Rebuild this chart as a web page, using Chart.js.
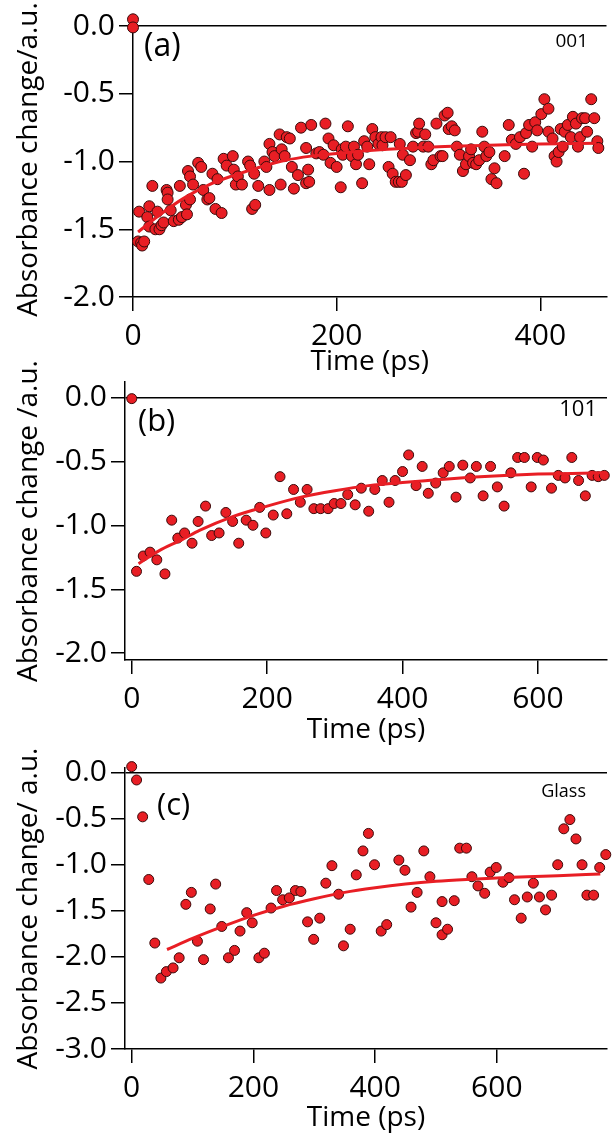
<!DOCTYPE html>
<html>
<head>
<meta charset="utf-8">
<script src="https://cdn.jsdelivr.net/npm/chart.js@4.4.1/dist/chart.umd.min.js"></script>
<style>
  html, body { margin: 0; padding: 0; background: #fff; }
  body { width: 613px; height: 1135px; position: relative; overflow: hidden; }
  canvas { position: absolute; left: 0; }
</style>
</head>
<body>
<canvas id="chartA" width="613" height="385" style="top:0px"></canvas>
<canvas id="chartB" width="613" height="390" style="top:360px"></canvas>
<canvas id="chartC" width="613" height="390" style="top:745px"></canvas>
<script>
// (a) 001
const timeA = [0, 0, 5, 6, 8, 9, 11, 14, 16, 16, 19, 22, 24, 26, 28, 30, 33, 34, 34, 37, 40, 45, 46, 48, 52, 53, 54, 56, 56, 59,
  64, 67, 69, 73, 75, 78, 81, 83, 87, 89, 92, 98, 99, 101, 103, 107, 113, 115, 117, 119, 120, 123, 129, 131, 134, 134, 137, 139,
  144, 145, 146, 149, 151, 154, 156, 158, 162, 165, 170, 170, 172, 173, 175, 180, 183, 187, 189, 192, 194, 197, 200, 204, 205,
  206, 209, 211, 215, 217, 219, 221, 225, 227, 230, 232, 235, 238, 241, 244, 245, 248, 251, 253, 255, 258, 261, 262, 264, 265,
  268, 272, 275, 278, 280, 281, 285, 287, 290, 293, 295, 298, 302, 304, 306, 309, 310, 313, 316, 318, 321, 324, 327, 330, 332,
  334, 337, 340, 343, 345, 347, 350, 352, 355, 357, 365, 369, 372, 376, 380, 384, 386, 389, 392, 395, 397, 401, 404, 408, 408,
  412, 414, 416, 418, 420, 422, 424, 427, 430, 432, 435, 437, 439, 441, 444, 446, 450, 453, 456, 457];
const absA = [0.05, -0.01, -1.59, -1.37, -1.60, -1.62, -1.59, -1.41, -1.33, -1.48, -1.18, -1.50, -1.37, -1.50, -1.47, -1.45,
  -1.21, -1.23, -1.28, -1.36, -1.44, -1.43, -1.18, -1.41, -1.32, -1.39, -1.07, -1.11, -1.28, -1.17,
  -1.01, -1.04, -1.21, -1.28, -1.27, -1.09, -1.35, -1.13, -1.38, -0.98, -1.03, -0.96, -1.06, -1.17, -1.11, -1.17, -1.00, -1.03,
  -1.35, -1.09, -1.32, -1.18, -1.00, -1.04, -0.87, -1.21, -0.93, -0.96,
  -0.80, -1.17, -0.91, -0.96, -0.82, -0.83, -1.04, -1.20, -1.10, -0.75, -0.90, -1.16, -1.06, -1.15, -0.73, -0.94, -0.93, -0.95,
  -0.72, -0.83, -1.01, -0.88, -1.04, -1.19, -0.91,
  -0.95, -0.89, -0.74, -0.96, -0.89, -1.02, -0.95, -1.16, -0.85, -0.89, -1.02, -0.76, -0.82, -0.87, -0.82, -0.88, -0.82, -1.04,
  -0.82, -1.09, -1.15, -1.15, -0.87, -1.15, -0.95,
  -1.10, -0.99, -0.89, -0.79, -0.78, -0.72, -0.89, -0.80, -0.89, -1.02, -0.99, -0.72, -0.96, -0.96, -0.66, -0.64, -0.76, -0.74,
  -0.77, -0.89, -0.95, -1.07, -1.02, -0.96, -0.91,
  -1.01, -1.02, -0.99, -0.78, -0.89, -0.96, -0.93, -1.13, -1.05, -1.16, -0.96, -0.73, -0.84, -0.87, -0.82, -1.09, -0.79, -0.73,
  -0.89, -0.71, -0.77, -0.65, -0.54, -0.61, -0.78,
  -0.83, -0.96, -1.00, -0.93, -0.76, -0.89, -0.78, -0.73, -0.82, -0.67, -0.72, -0.89, -0.82, -0.68, -0.68, -0.78, -0.54, -0.68,
  -0.85, -0.90];
const fitTimeA = [5, 25, 50, 75, 100, 125, 150, 175, 200, 250, 300, 350, 400, 455];
const fitA = [-1.52, -1.40, -1.27, -1.17, -1.10, -1.04, -0.99, -0.96, -0.94, -0.91, -0.89, -0.88, -0.87, -0.865];

// (b) 101
const timeB = [0, 7, 17, 27, 37, 49, 59, 68, 78, 89, 98, 109, 118, 129, 139, 149, 158, 169, 179, 189, 198, 209, 219, 229, 239,
  249, 259, 269, 279, 290, 299, 309, 319, 330, 339, 350, 359, 370, 380, 389, 400, 409, 420, 429, 438, 449, 460, 469, 479, 489,
  500, 509, 519, 530, 540, 550, 560, 570, 580, 590, 599, 608, 620, 630, 640, 650, 660, 670, 680, 689, 698];
const absB = [-0.01, -1.36, -1.24, -1.21, -1.27, -1.38, -0.96, -1.10, -1.06, -1.14, -0.97, -0.85, -1.08, -1.06, -0.90, -0.97,
  -1.14, -0.96, -1.00, -0.86, -1.06, -0.92, -0.62, -0.91, -0.72,
  -0.82, -0.72, -0.87, -0.87, -0.87, -0.83, -0.83, -0.76, -0.84, -0.71, -0.89, -0.72, -0.65, -0.82, -0.65, -0.58, -0.45, -0.69,
  -0.54, -0.75, -0.67, -0.59, -0.54, -0.78, -0.53,
  -0.63, -0.54, -0.77, -0.54, -0.70, -0.85, -0.59, -0.47, -0.47, -0.70, -0.47, -0.49, -0.71, -0.61, -0.63, -0.47, -0.65, -0.77,
  -0.61, -0.62, -0.61];
const fitTimeB = [10, 40, 75, 100, 150, 200, 250, 300, 350, 400, 450, 500, 550, 600, 650, 700];
const fitB = [-1.30, -1.20, -1.11, -1.04, -0.93, -0.85, -0.78, -0.73, -0.69, -0.665, -0.645, -0.625, -0.61, -0.60, -0.595, -0.59];

// (c) Glass
const timeC = [0, 8, 18, 28, 38, 48, 57, 68, 78, 89, 98, 108, 118, 129, 138, 148, 159, 169, 178, 189, 198, 209, 218, 229, 238,
  248, 259, 269, 278, 289, 299, 309, 319, 329, 340, 348, 359, 369, 380, 389, 399, 410, 419, 439, 449, 459, 469, 480, 490, 500,
  510, 510, 519, 530, 539, 550, 559, 569, 580, 589, 599, 610, 620, 629, 640, 650, 660, 670, 680, 690, 700, 710, 720, 730, 740,
  748, 759, 769, 779];
const absC = [0.065, -0.08, -0.48, -1.16, -1.85, -2.23, -2.16, -2.12, -2.01, -1.43, -1.30, -1.83, -2.03, -1.48, -1.21, -1.67,
  -2.01, -1.93, -1.72, -1.52, -1.63, -2.01, -1.96, -1.47, -1.28,
  -1.38, -1.36, -1.28, -1.29, -1.62, -1.81, -1.58, -1.20, -1.01, -1.32, -1.88, -1.70, -1.11, -0.85, -0.66, -1.00, -1.72, -1.65,
  -0.95, -1.06, -1.46, -1.30, -0.85, -1.13, -1.63,
  -1.40, -1.76, -1.70, -1.39, -0.82, -0.82, -1.13, -1.23, -1.31, -1.08, -1.03, -1.19, -1.14, -1.38, -1.58, -1.35, -1.20, -1.35,
  -1.49, -1.33, -1.00, -0.61, -0.51, -0.72, -1.00,
  -1.33, -1.33, -1.03, -0.89];
const fitTimeC = [58, 100, 150, 200, 250, 300, 350, 400, 450, 500, 550, 600, 650, 700, 770];
const fitC = [-1.92, -1.80, -1.67, -1.55, -1.45, -1.37, -1.30, -1.25, -1.21, -1.18, -1.16, -1.145, -1.13, -1.12, -1.10];

// tick values
const xTicksA = [0, 200, 400];
const xTicksBC = [0, 200, 400, 600];
const yTicksAB = [0, -0.5, -1.0, -1.5, -2.0];
const yTicksC = [0, -0.5, -1.0, -1.5, -2.0, -2.5, -3.0];

const RED = 'rgb(232, 30, 36)';

// writes the panel letter and sample name
const panelText = {
    id: 'panelText',
    afterDraw(chart, args, opts) {
        const ctx = chart.ctx;
        ctx.save();
        ctx.fillStyle = '#000';
        ctx.textBaseline = 'middle';
        (opts.items || []).forEach(it => {
            ctx.font = it.size + "px 'Open Sans', sans-serif";
            ctx.textAlign = it.align;
            ctx.fillText(it.text, it.x, it.y);
        });
        ctx.restore();
    }
};

function toPoints(xs, ys) {
    return xs.map((x, i) => ({ x: x, y: ys[i] }));
}

function makePanel(id, p) {
    new Chart(document.getElementById(id).getContext('2d'), {
        type: 'scatter',
        data: {
            datasets: [
                {
                    label: 'fit',
                    data: toPoints(p.fitX, p.fitY),
                    showLine: true,
                    borderColor: RED,
                    borderWidth: 3,
                    pointRadius: 0,
                    cubicInterpolationMode: 'monotone'
                },
                {
                    label: 'data',
                    data: toPoints(p.x, p.y),
                    backgroundColor: RED,
                    borderColor: '#3a0a0a',
                    borderWidth: 1,
                    pointRadius: p.radius,
                    clip: false
                }
            ]
        },
        options: {
            responsive: false,
            animation: false,
            devicePixelRatio: 1,
            layout: { padding: { top: p.padTop, right: p.padRight, left: 0, bottom: 0 } },
            plugins: {
                legend: { display: false },
                tooltip: { enabled: false },
                panelText: { items: p.labels }
            },
            scales: {
                x: {
                    type: 'linear',
                    min: p.xMin,
                    max: p.xMax,
                    afterBuildTicks: s => { s.ticks = p.xTicks.map(v => ({ value: v })); },
                    afterFit: s => { s.height = p.xHeight; },
                    ticks: { font: { size: 30 }, color: '#000', padding: 7, maxRotation: 0, callback: v => String(v) },
                    grid: { drawOnChartArea: false, color: '#000', lineWidth: 1.5, tickLength: 14 },
                    border: { color: '#000', width: 1.5 },
                    title: { display: true, text: 'Time (ps)', font: { size: 28 }, color: '#000',
                             padding: { top: 0, bottom: p.titlePad } }
                },
                y: {
                    type: 'linear',
                    min: p.yMin,
                    max: p.yMax,
                    afterBuildTicks: s => { s.ticks = p.yTicks.map(v => ({ value: v })); },
                    afterFit: s => { s.width = p.yWidth; },
                    ticks: { font: { size: 30 }, color: '#000', padding: 4, callback: v => v.toFixed(1) },
                    grid: {
                        color: c => (c.tick && c.tick.value === 0) ? '#000' : 'rgba(0,0,0,0)',
                        tickColor: '#000',
                        lineWidth: 1.5,
                        tickLength: 14
                    },
                    border: { color: '#000', width: 1.5 },
                    title: { display: true, text: p.yTitle, font: { size: 28 }, color: '#000',
                             padding: { top: 12, bottom: 0 } }
                }
            }
        },
        plugins: [panelText]
    });
}

document.addEventListener('DOMContentLoaded', () => {
    Chart.defaults.font.family = "'Open Sans', sans-serif";
    Chart.defaults.color = '#000';

    makePanel('chartA', {
        x: timeA, y: absA, fitX: fitTimeA, fitY: fitA, radius: 5.5,
        xMin: 0, xMax: 465, yMin: -2.0, yMax: 0.03,
        xTicks: xTicksA, yTicks: yTicksAB,
        yTitle: 'Absorbance change/a.u.',
        padTop: 21, padRight: 5, yWidth: 133, xHeight: 88, titlePad: 6,
        labels: [
            { text: '(a)', x: 144, y: 47, size: 32, align: 'left' },
            { text: '001', x: 588, y: 42, size: 19, align: 'right' }
        ]
    });

    makePanel('chartB', {
        x: timeB, y: absB, fitX: fitTimeB, fitY: fitB, radius: 5,
        xMin: -10, xMax: 702, yMin: -2.053, yMax: 0.12,
        xTicks: xTicksBC, yTicks: yTicksAB,
        yTitle: 'Absorbance change /a.u.',
        padTop: 13, padRight: 0, yWidth: 125, xHeight: 90, titlePad: 3,
        labels: [
            { text: '(b)', x: 138, y: 62, size: 31, align: 'left' },
            { text: '101', x: 597, y: 50, size: 22, align: 'right' }
        ]
    });

    makePanel('chartC', {
        x: timeC, y: absC, fitX: fitTimeC, fitY: fitC, radius: 5,
        xMin: -11, xMax: 781, yMin: -3.0, yMax: 0.05,
        xTicks: xTicksBC, yTicks: yTicksC,
        yTitle: 'Absorbance change/ a.u.',
        padTop: 23, padRight: 0, yWidth: 125, xHeight: 86, titlePad: 0,
        labels: [
            { text: '(c)', x: 157, y: 61, size: 31, align: 'left' },
            { text: 'Glass', x: 586, y: 47, size: 18, align: 'right' }
        ]
    });
});
</script>
</body>
</html>
